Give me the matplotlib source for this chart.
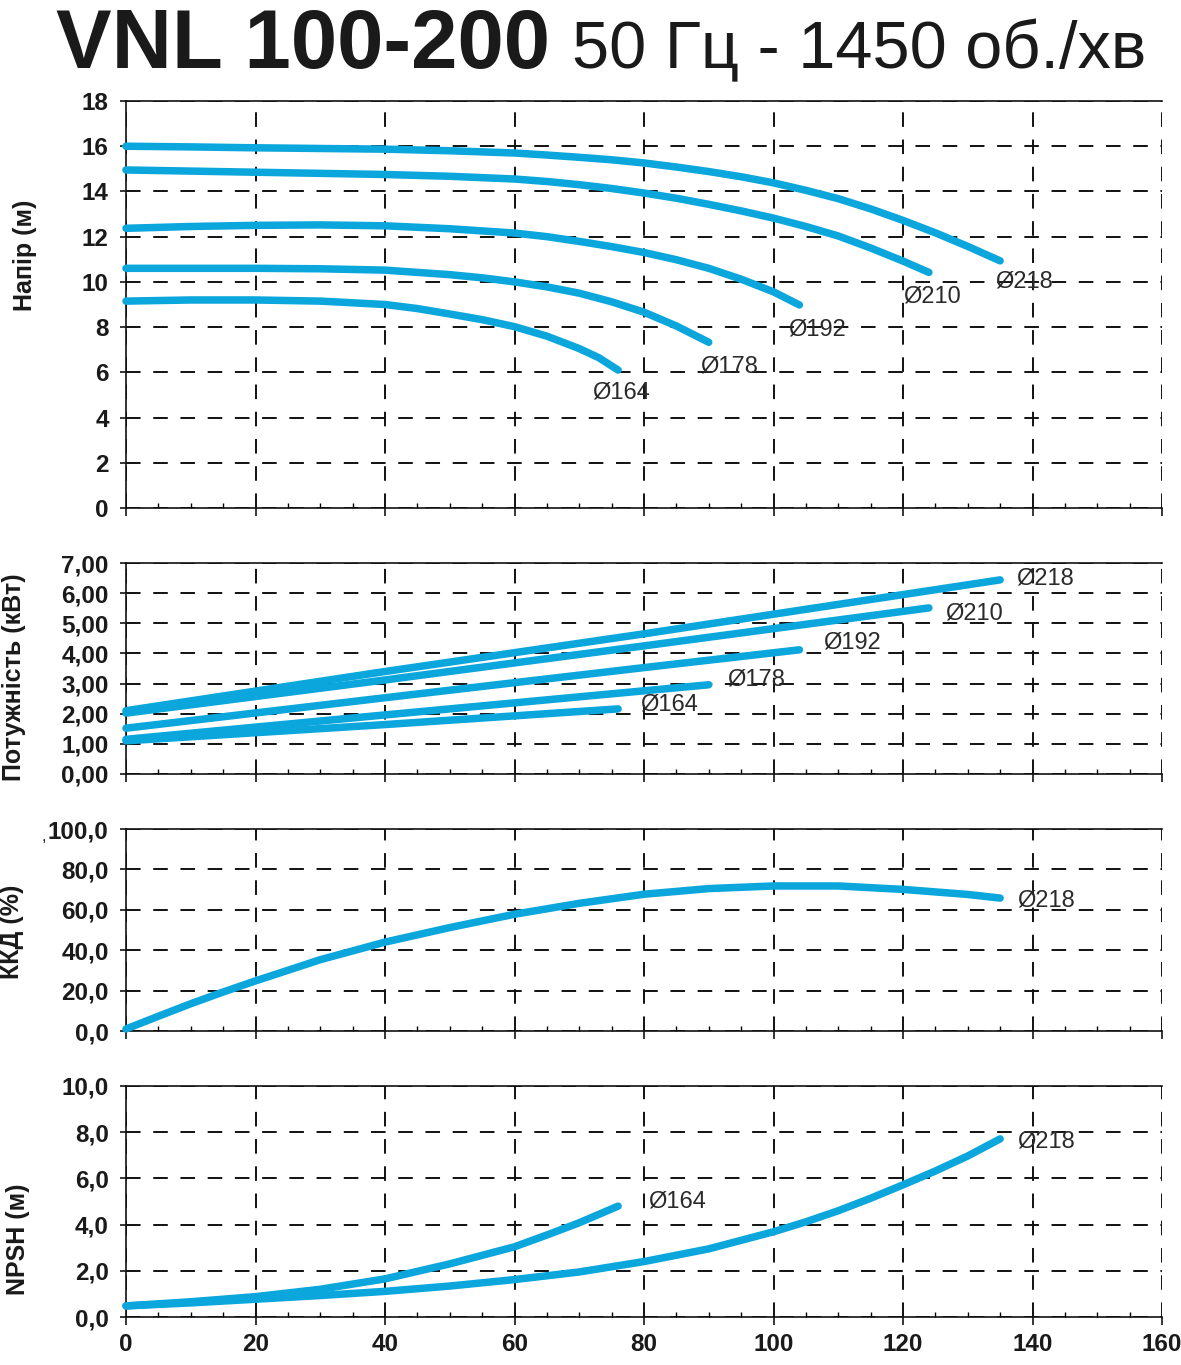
"""VNL 100-200 pump performance curves (head, power, efficiency, NPSH)."""

import matplotlib

matplotlib.use("Agg")
import matplotlib.pyplot as plt
from matplotlib.ticker import FixedLocator, MultipleLocator

plt.rcParams["font.family"] = ["Liberation Sans", "DejaVu Sans"]

CURVE_COLOR = "#0aa6dc"
TEXT_COLOR = "#1a1a1a"

# --- head, m ---
q_h218 = [0, 10, 20, 30, 40, 50, 60, 65, 70, 75, 80, 85, 90, 95, 100, 105, 110, 115, 120, 125, 130, 135]
h_218 = [16.0, 15.97, 15.93, 15.9, 15.87, 15.8, 15.7, 15.61, 15.51, 15.4, 15.26, 15.08, 14.88, 14.65,
         14.38, 14.05, 13.68, 13.23, 12.72, 12.17, 11.57, 10.93]
q_h210 = [0, 10, 20, 30, 40, 50, 60, 65, 70, 75, 80, 85, 90, 95, 100, 105, 110, 115, 120, 124]
h_210 = [14.95, 14.9, 14.85, 14.8, 14.75, 14.67, 14.55, 14.44, 14.3, 14.13, 13.93, 13.7, 13.43, 13.14,
         12.82, 12.45, 12.03, 11.5, 10.92, 10.42]
q_h192 = [0, 10, 20, 30, 40, 50, 60, 65, 70, 75, 80, 85, 90, 95, 100, 104]
h_192 = [12.37, 12.45, 12.5, 12.52, 12.48, 12.35, 12.16, 12.0, 11.79, 11.56, 11.3, 10.98, 10.6, 10.12,
         9.56, 8.98]
q_h178 = [0, 10, 20, 30, 40, 50, 55, 60, 65, 70, 75, 80, 85, 90]
h_178 = [10.6, 10.6, 10.6, 10.58, 10.52, 10.32, 10.18, 10.0, 9.78, 9.5, 9.12, 8.66, 8.05, 7.33]
q_h164 = [0, 10, 20, 30, 40, 45, 50, 55, 60, 65, 70, 73, 76]
h_164 = [9.15, 9.2, 9.2, 9.15, 9.0, 8.82, 8.58, 8.33, 8.02, 7.6, 7.05, 6.65, 6.1]

# --- power, kW ---
q_p218 = [0, 40, 80, 135]
p_218 = [2.1, 3.4, 4.65, 6.44]
q_p210 = [0, 40, 80, 124]
p_210 = [2.02, 3.12, 4.25, 5.51]
q_p192 = [0, 40, 80, 104]
p_192 = [1.52, 2.53, 3.53, 4.12]
q_p178 = [0, 40, 90]
p_178 = [1.15, 1.96, 2.96]
q_p164 = [0, 40, 76]
p_164 = [1.1, 1.64, 2.16]

# --- efficiency, % ---
q_eff = [0, 5, 10, 15, 20, 30, 40, 50, 60, 70, 80, 90, 100, 110, 120, 130, 135]
eff_218 = [1.0, 7.3, 13.5, 19.3, 24.8, 35.3, 44.0, 51.2, 57.8, 63.2, 67.7, 70.5, 71.8, 71.8, 70.1,
           67.6, 65.8]

# --- NPSH, m ---
q_n218 = [0, 10, 20, 30, 40, 50, 60, 70, 80, 90, 100, 105, 110, 115, 120, 125, 130, 135]
npsh_218 = [0.48, 0.61, 0.77, 0.93, 1.11, 1.34, 1.62, 1.95, 2.4, 2.95, 3.69, 4.12, 4.6, 5.14, 5.72,
            6.32, 6.97, 7.71]
q_n164 = [0, 10, 20, 30, 40, 50, 60, 65, 70, 76]
npsh_164 = [0.48, 0.66, 0.88, 1.2, 1.65, 2.3, 3.04, 3.55, 4.08, 4.8]

# tick labels
x_ticks = [0, 20, 40, 60, 80, 100, 120, 140, 160]
head_ticks = ["0", "2", "4", "6", "8", "10", "12", "14", "16", "18"]
power_ticks = ["0,00", "1,00", "2,00", "3,00", "4,00", "5,00", "6,00", "7,00"]
eff_ticks = ["0,0", "20,0", "40,0", "60,0", "80,0", "100,0"]
npsh_ticks = ["0,0", "2,0", "4,0", "6,0", "8,0", "10,0"]

# curve label text with anchor (Q, value)
head_labels = [("Ø164", 72, 5.1), ("Ø178", 88.6, 6.25), ("Ø192", 102.2, 7.9),
               ("Ø210", 120, 9.35), ("Ø218", 134.2, 10.0)]
power_labels = [("Ø218", 137.5, 6.5), ("Ø210", 126.5, 5.31), ("Ø192", 107.6, 4.35),
                ("Ø178", 92.8, 3.12), ("Ø164", 79.4, 2.32)]
eff_labels = [("Ø218", 137.6, 64.5)]
npsh_labels = [("Ø218", 137.6, 7.6), ("Ø164", 80.6, 5.0)]

W, H = 1181, 1365


def make_axes(fig, top_px, bottom_px):
    left = 126 / W
    width = 1036 / W
    bottom = (H - bottom_px) / H
    height = (bottom_px - top_px) / H
    return fig.add_axes([left, bottom, width, height])


def style_axes(ax, ymax, ystep, ylabels, ylabel, label_xy, show_x):
    ax.set_xlim(0, 160)
    ax.set_ylim(0, ymax)
    ax.xaxis.set_major_locator(FixedLocator(x_ticks))
    ax.xaxis.set_minor_locator(MultipleLocator(5))
    ax.set_yticks([i * ystep for i in range(len(ylabels))], ylabels)
    ax.spines["right"].set_visible(False)
    for side in ("left", "bottom", "top"):
        ax.spines[side].set_linewidth(1.2)
        ax.spines[side].set_color("#111111")
    ax.grid(True, which="major", color="#111111", linewidth=1.4,
            linestyle=(0, (7.5, 6.5)))
    ax.tick_params(axis="y", which="major", direction="out", length=4.5,
                   width=1.1, pad=8, labelsize=17.5, labelcolor=TEXT_COLOR)
    ax.tick_params(axis="x", which="major", direction="out", length=5.5,
                   width=1.1, pad=6, labelsize=17.5, labelcolor=TEXT_COLOR,
                   labelbottom=show_x)
    ax.tick_params(axis="x", which="minor", direction="in", length=3.6,
                   width=1.0)
    for lab in ax.get_yticklabels() + ax.get_xticklabels():
        lab.set_fontweight("bold")
    ax.set_ylabel(ylabel, fontsize=18, fontweight="bold", color=TEXT_COLOR)
    ax.yaxis.set_label_coords(*label_xy)


def draw(ax, q, v):
    ax.plot(q, v, color=CURVE_COLOR, linewidth=5.4, solid_capstyle="round",
            solid_joinstyle="round", clip_on=False, zorder=3)


def put_labels(ax, labels):
    for text, q, v in labels:
        ax.text(q, v, text, fontsize=17, color="#2a2a2a", ha="left",
                va="center", zorder=4)


fig = plt.figure(figsize=(W / 100, H / 100), dpi=100)

ax1 = make_axes(fig, 101, 508)
for q, v in [(q_h218, h_218), (q_h210, h_210), (q_h192, h_192),
             (q_h178, h_178), (q_h164, h_164)]:
    draw(ax1, q, v)
style_axes(ax1, 18, 2, head_ticks, "Напір (м)", (-0.086, 0.62), False)
put_labels(ax1, head_labels)

ax2 = make_axes(fig, 563, 774)
for q, v in [(q_p218, p_218), (q_p210, p_210), (q_p192, p_192),
             (q_p178, p_178), (q_p164, p_164)]:
    draw(ax2, q, v)
style_axes(ax2, 7, 1, power_ticks, "Потужність (кВт)", (-0.097, 0.46), False)
put_labels(ax2, power_labels)

ax3 = make_axes(fig, 829, 1031)
draw(ax3, q_eff, eff_218)
style_axes(ax3, 100, 20, eff_ticks, "ККД (%)", (-0.098, 0.49), False)
put_labels(ax3, eff_labels)
# small stray mark in front of the top efficiency tick label
fig.text(44 / W, 1 - 836 / H, ",", fontsize=12, color=TEXT_COLOR,
         ha="center", va="center")

ax4 = make_axes(fig, 1086, 1317)
draw(ax4, q_n218, npsh_218)
draw(ax4, q_n164, npsh_164)
style_axes(ax4, 10, 2, npsh_ticks, "NPSH (м)", (-0.093, 0.335), True)
put_labels(ax4, npsh_labels)

fig.text(56 / W, 1 - 68 / H, "VNL 100-200", fontsize=60, fontweight="bold",
         color=TEXT_COLOR, ha="left", va="baseline")
fig.text(572 / W, 1 - 68 / H, "50 Гц - 1450 об./хв", fontsize=48,
         color=TEXT_COLOR, ha="left", va="baseline")

fig.savefig("out.png", dpi=100)
